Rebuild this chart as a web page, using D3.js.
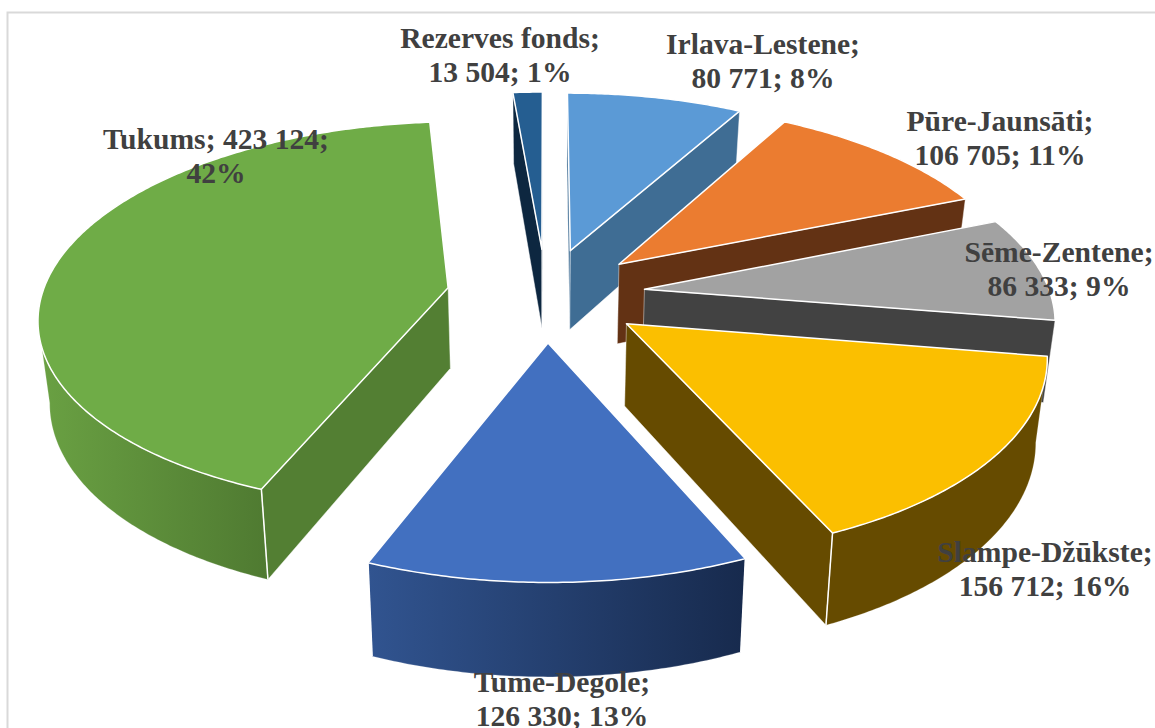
<!DOCTYPE html>
<html><head><meta charset="utf-8">
<style>html,body{margin:0;padding:0;background:#fff}svg{display:block}</style>
<script src="https://cdn.jsdelivr.net/npm/d3@7/dist/d3.min.js"></script>
</head><body>
<script>
// Data
const categories = ["Irlava-Lestene","Pūre-Jaunsāti","Sēme-Zentene","Slampe-Džūkste","Tume-Degole","Tukums","Rezerves fonds"];
const values = [80771,106705,86333,156712,126330,423124,13504];
const percentLabels = ["8%","11%","9%","16%","13%","42%","1%"];
const valueLabels = ["80 771","106 705","86 333","156 712","126 330","423 124","13 504"];

// Style
const topColors  = ["#5B9AD6","#EB7C30","#A2A2A2","#FBBF00","#4270C0","#6FAC47","#255E91"];
const sideColors = ["#3F6D94","#633214","#424242","#664B00","#2A4577","#537F33","#0D2740"];
const wallLeft   = ["#3F6D94","#633214","#424242","#664B00","#315490","#6AA143","#0D2740"];
const wallRight  = ["#3F6D94","#633214","#424242","#664B00","#172A4D","#4F7A31","#0D2740"];
const labelLines = [
  d=>[`${d.name};`,`${d.val}; ${d.pct}`], d=>[`${d.name};`,`${d.val}; ${d.pct}`],
  d=>[`${d.name};`,`${d.val}; ${d.pct}`], d=>[`${d.name};`,`${d.val}; ${d.pct}`],
  d=>[`${d.name};`,`${d.val}; ${d.pct}`], d=>[`${d.name}; ${d.val};`,`${d.pct}`],
  d=>[`${d.name};`,`${d.val}; ${d.pct}`]];
const labelCx = [763,1000,1059,1045,562,216,500];
const labelY  = [54,131,262,562,692,149,48];

const W=1155,H=728;
// Projection parameters (ground plane, radius = 1)
const cx=546, cy=294.5, k=0.14, explode=0.245, depthBase=81, floorScale=0.977, rot=0;
const sx=d3.scaleLinear().domain([-1,1]).range([cx-406,cx+406]);
const sy=d3.scaleLinear().domain([-1,1]).range([cy+191,cy-191]);
const persp=v=>1/(1+k*v);
function topPt(u,v){const w=persp(v);return [cx+(sx(u)-cx)*w, cy+(sy(v)-cy)*w];}
function botPt(u,v){const p=topPt(u,v),w=persp(v);return [cx+(p[0]-cx)*floorScale, p[1]+depthBase*Math.pow(w,0.8)];}

const svg=d3.select("body").append("svg").attr("width",W).attr("height",H);
const defs=svg.append("defs");
svg.append("rect").attr("x",7.5).attr("y",12.5).attr("width",W).attr("height",H)
  .attr("fill","#fff").attr("stroke","#D9D9D9").attr("stroke-width",2);

const pie=d3.pie().sort(null).startAngle(rot).endAngle(2*Math.PI+rot);
const arcs=pie(values).map((a,i)=>{
  const mid=(a.startAngle+a.endAngle)/2;
  return {...a,i,mid,ou:explode*Math.sin(mid),ov:explode*Math.cos(mid)};
});
const line=d3.line();
const close=pts=>line(pts)+"Z";

const drawOrder=arcs.slice().sort((a,b)=>d3.descending(Math.cos(a.mid),Math.cos(b.mid)));
const g=svg.append("g");
drawOrder.forEach(a=>{
  const at=t=>[a.ou+Math.sin(t),a.ov+Math.cos(t)];
  const n=Math.max(4,Math.ceil((a.endAngle-a.startAngle)/0.01));
  const ts=d3.range(n+1).map(j=>a.startAngle+(a.endAngle-a.startAngle)*j/n);
  const rim=ts.map(t=>topPt(...at(t)));
  const apexT=topPt(a.ou,a.ov), apexB=botPt(a.ou,a.ov);
  const sg=g.append("g");
  // radial faces
  const radial=(t,isEnd)=>{
    const P=topPt(...at(t)),Q=botPt(...at(t));
    const cross=(P[0]-apexT[0])*(Q[1]-P[1])-(P[1]-apexT[1])*(Q[0]-P[0]);
    if(isEnd?cross>0:cross<0){
      sg.append("path").attr("d",close([apexT,P,Q,apexB])).attr("fill",sideColors[a.i])
        .attr("stroke","#fff").attr("stroke-opacity",.55).attr("stroke-width",.8);
    }
  };
  radial(a.startAngle,false);radial(a.endAngle,true);
  // outer wall: only segments that face the viewer
  const front=ts.filter((t,j)=>j<n&&rim[j+1][0]<rim[j][0]);
  if(front.length){
    const last=front[front.length-1]+(a.endAngle-a.startAngle)/n;
    const tt=front.concat([last]);
    const up=tt.map(t=>topPt(...at(t))), dn=tt.map(t=>botPt(...at(t)));
    const id="wall"+a.i;
    const xs=up.concat(dn).map(p=>p[0]);
    const gr=defs.append("linearGradient").attr("id",id).attr("gradientUnits","userSpaceOnUse")
      .attr("x1",d3.min(xs)).attr("x2",d3.max(xs)).attr("y1",0).attr("y2",0);
    gr.append("stop").attr("offset",0).attr("stop-color",wallLeft[a.i]);
    gr.append("stop").attr("offset",1).attr("stop-color",wallRight[a.i]);
    sg.append("path").attr("d",close(up.concat(dn.slice().reverse()))).attr("fill",`url(#${id})`)
      .attr("stroke","#fff").attr("stroke-opacity",.35).attr("stroke-width",.6);
    // vertical edge at the slice corner
    [0,tt.length-1].forEach(j=>{
      if(Math.abs(tt[j]-a.startAngle)<1e-6||Math.abs(tt[j]-a.endAngle)<1e-6)
        sg.append("path").attr("d",line([up[j],dn[j]])).attr("stroke","#fff").attr("stroke-width",1.5).attr("fill","none");
    });
  }
  // top face
  sg.append("path").attr("d",close([apexT].concat(rim))).attr("fill",topColors[a.i])
    .attr("stroke","#fff").attr("stroke-width",1.5).attr("stroke-linejoin","round");
});

// Labels
const lg=svg.append("g").attr("font-family","'Liberation Serif','Times New Roman',serif")
  .attr("font-weight","700").attr("font-size",29.6).attr("fill","#404040").attr("text-anchor","middle");
categories.forEach((name,i)=>{
  const lines=labelLines[i]({name,val:valueLabels[i],pct:percentLabels[i]});
  const t=lg.append("text").attr("x",labelCx[i]).attr("y",labelY[i]);
  lines.forEach((s,j)=>t.append("tspan").attr("x",labelCx[i]).attr("dy",j?33.5:0).text(s));
});
</script>
</body></html>
